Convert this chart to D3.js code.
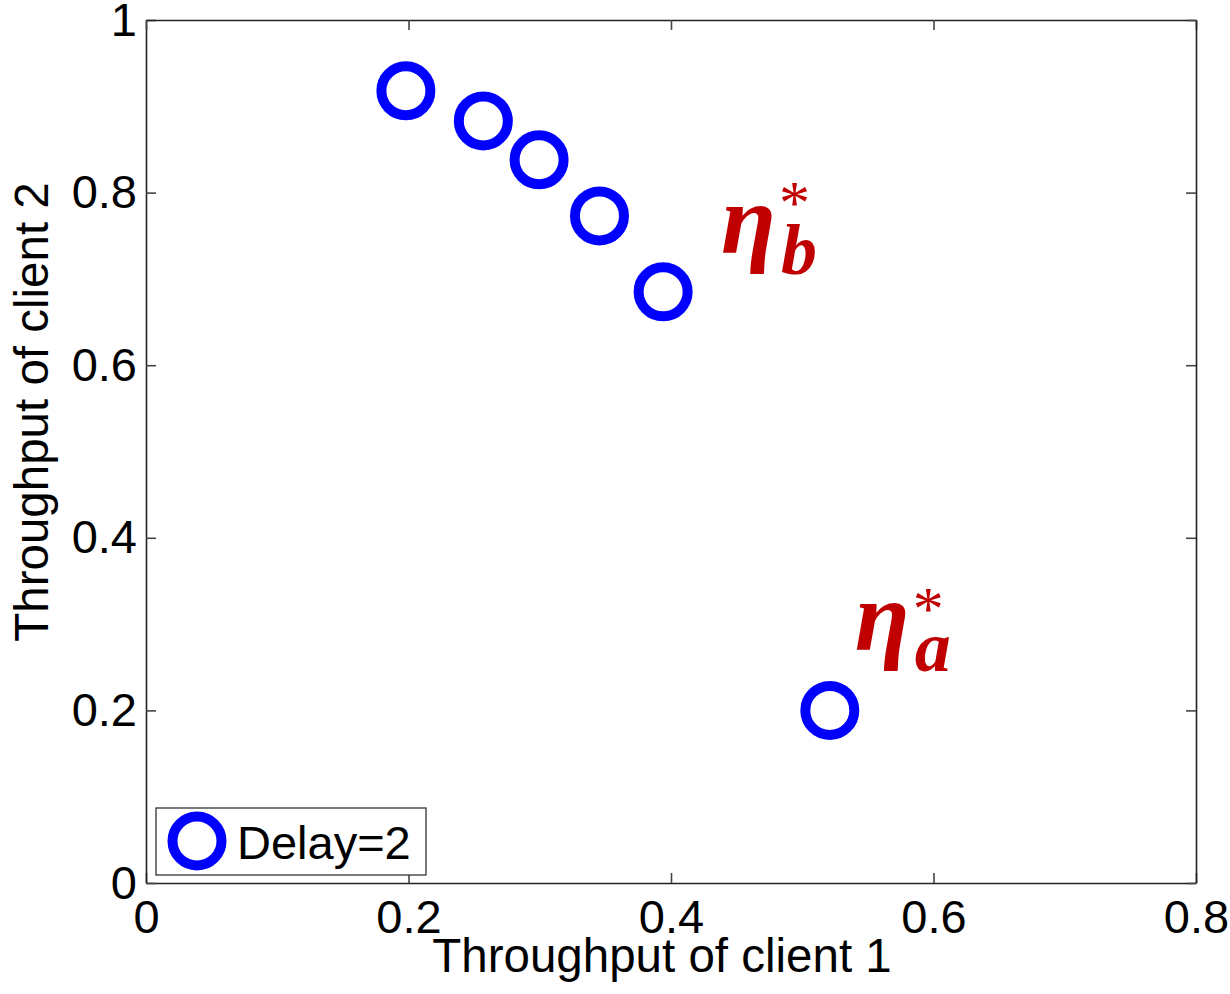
<!DOCTYPE html>
<html lang="en">
<head>
    <meta charset="UTF-8">
    <title>Throughput</title>
    <script src="https://cdn.jsdelivr.net/npm/d3@7"></script>
    <style>
        body { margin: 0; background: #fff; }
        text { font-family: Arial, "Liberation Sans", sans-serif; }
        text.note { font-family: "Liberation Serif", serif; }
    </style>
</head>
<body>
<svg width="1230" height="994" id="svgcontainer"></svg>
<script>
    // data
    const client1 = [0.198, 0.257, 0.2995, 0.3455, 0.394, 0.521];
    const client2 = [0.918, 0.883, 0.838, 0.773, 0.685, 0.200];
    const xTicks = [0, 0.2, 0.4, 0.6, 0.8];
    const yTicks = [0, 0.2, 0.4, 0.6, 0.8, 1];
    const seriesName = 'Delay=2';

    const points = client1.map((x, i) => ({x: x, y: client2[i]}));

    const svg = d3.select('#svgcontainer');
    const margin = {top: 20, right: 34, bottom: 111, left: 146};
    const innerWidth = 1230 - margin.left - margin.right;
    const innerHeight = 994 - margin.top - margin.bottom;

    const xScale = d3.scaleLinear().domain([0, 0.8]).range([0, innerWidth]);
    const yScale = d3.scaleLinear().domain([0, 1]).range([innerHeight, 0]);

    const g = svg.append('g').attr('transform', `translate(${margin.left},${margin.top})`);

    const fmt = d => d === 0 ? '0' : d === 1 ? '1' : d3.format('.1f')(d);

    const xAxis = d3.axisBottom(xScale).tickValues(xTicks).tickFormat(fmt).tickSizeInner(-10).tickSizeOuter(0).tickPadding(17);
    const yAxis = d3.axisLeft(yScale).tickValues(yTicks).tickFormat(fmt).tickSizeInner(-10).tickSizeOuter(0).tickPadding(9);
    const xTop = d3.axisTop(xScale).tickValues(xTicks).tickFormat('').tickSizeInner(-10).tickSizeOuter(0);
    const yRight = d3.axisRight(yScale).tickValues(yTicks).tickFormat('').tickSizeInner(-10).tickSizeOuter(0);

    g.append('g').attr('class', 'axis').attr('transform', `translate(0,${innerHeight})`).call(xAxis);
    g.append('g').attr('class', 'axis').call(yAxis);
    g.append('g').attr('class', 'axis').call(xTop);
    g.append('g').attr('class', 'axis').attr('transform', `translate(${innerWidth},0)`).call(yRight);

    g.selectAll('.axis path').attr('stroke', '#222').attr('stroke-width', 1.6);
    g.selectAll('.axis line').attr('stroke', '#444').attr('stroke-width', 1.6);
    g.selectAll('.axis text').attr('font-size', '47px').attr('fill', '#000')
        .style('font-family', 'Arial, "Liberation Sans", sans-serif');

    // markers
    g.selectAll('.pt').data(points).join('circle').attr('class', 'pt')
        .attr('cx', d => xScale(d.x)).attr('cy', d => yScale(d.y)).attr('r', 24.5)
        .attr('fill', 'none').attr('stroke', '#0000ff').attr('stroke-width', 10);

    // axis labels
    svg.append('text').text('Throughput of client 1').attr('x', 662).attr('y', 972)
        .attr('text-anchor', 'middle').attr('font-size', '47.5px');
    svg.append('text').text('Throughput of client 2')
        .attr('transform', 'translate(48,412) rotate(-90)')
        .attr('text-anchor', 'middle').attr('font-size', '47.5px');

    // legend
    const leg = svg.append('g');
    leg.append('rect').attr('x', 156).attr('y', 808).attr('width', 270).attr('height', 67)
        .attr('fill', '#fff').attr('stroke', '#333').attr('stroke-width', 1.3);
    leg.append('circle').attr('cx', 197).attr('cy', 841).attr('r', 24.5)
        .attr('fill', 'none').attr('stroke', '#0000ff').attr('stroke-width', 10);
    leg.append('text').text(seriesName).attr('x', 237).attr('y', 859).attr('font-size', '47px');

    // annotations
    const notes = [{sub: 'b', x: 0.438, y: 0.73, star: -30}, {sub: 'a', x: 0.540, y: 0.27, star: -21}];
    notes.forEach(n => {
        const px = margin.left + xScale(n.x), py = margin.top + yScale(n.y);
        const t = svg.append('g').attr('fill', '#c00000');
        t.append('text').attr('class', 'note').text('η').attr('x', px).attr('y', py)
            .attr('font-size', '100px').attr('font-style', 'italic').attr('font-weight', 'bold');
        t.append('text').attr('class', 'note').text(n.sub).attr('x', px + 60).attr('y', py + 21)
            .attr('font-size', '72px').attr('font-style', 'italic').attr('font-weight', 'bold');
        t.append('text').attr('class', 'note').text('*').attr('x', px + 58).attr('y', py + n.star)
            .attr('font-size', '62px');
    });
</script>
</body>
</html>
